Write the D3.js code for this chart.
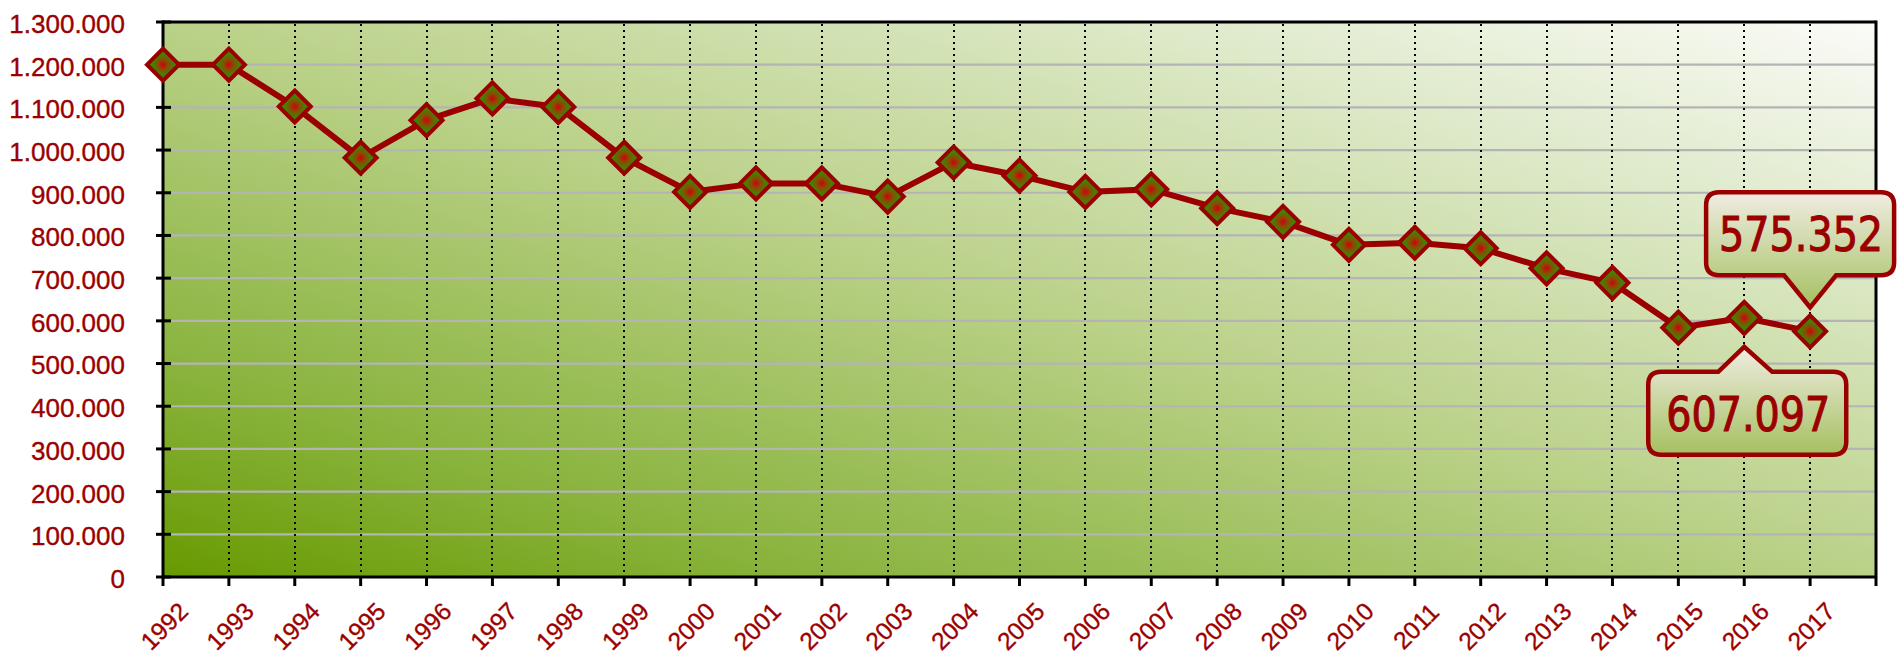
<!DOCTYPE html>
<html>
<head>
<meta charset="utf-8">
<script src="https://cdn.jsdelivr.net/npm/d3@7"></script>
<style>
  html, body { margin: 0; padding: 0; background: #ffffff; }
  svg { display: block; }
</style>
</head>
<body>
<svg id="chart" width="1899" height="655"></svg>
<script>
// ---- data ----
const years = [1992,1993,1994,1995,1996,1997,1998,1999,2000,2001,2002,2003,2004,2005,2006,2007,2008,2009,2010,2011,2012,2013,2014,2015,2016,2017];
const values = [1200000,1200000,1102000,982000,1070000,1121000,1101000,982000,902000,922000,922000,891000,971000,940000,902000,908000,864000,832000,778000,783000,770000,723000,689000,584000,607097,575352];
const yTickValues = [0,100000,200000,300000,400000,500000,600000,700000,800000,900000,1000000,1100000,1200000,1300000];
const xTickYears = [1992,1993,1994,1995,1996,1997,1998,1999,2000,2001,2002,2003,2004,2005,2006,2007,2008,2009,2010,2011,2012,2013,2014,2015,2016,2017,2018];
const calloutYears = [2017, 2016];

// ---- layout ----
const W = 1899, H = 655;
const margin = {left: 163, top: 22, right: 23, bottom: 78};
const x = d3.scaleLinear().domain([1992, 2018]).range([margin.left, W - margin.right]);
const y = d3.scaleLinear().domain([0, 1300000]).range([H - margin.bottom, margin.top]);
const fmt = v => d3.format(",")(v).replace(/,/g, ".");
const RED = "#9b0000";

const svg = d3.select("#chart");
const defs = svg.append("defs");

// background gradient (bottom-left dark green -> top-right white)
const bg = defs.append("linearGradient").attr("id", "bg")
  .attr("x1", 0).attr("y1", 1).attr("x2", 1).attr("y2", 0);
[[0, "#679a00"], [0.18, "#87b23a"], [0.5, "#bad188"], [0.78, "#dde9c8"], [1, "#fbfbf8"]]
  .forEach(([o, c]) => bg.append("stop").attr("offset", o).attr("stop-color", c));

// marker gradient
const mg = defs.append("radialGradient").attr("id", "mk");
[[0, "#d0000a"], [0.3, "#8a4a05"], [0.62, "#468000"], [1, "#3c8200"]]
  .forEach(([o, c]) => mg.append("stop").attr("offset", o).attr("stop-color", c));

// callout gradient
const cg = defs.append("linearGradient").attr("id", "cg")
  .attr("x1", 0).attr("y1", 0).attr("x2", 0).attr("y2", 1);
cg.append("stop").attr("offset", 0).attr("stop-color", "#f0ece2");
cg.append("stop").attr("offset", 1).attr("stop-color", "#a4c060");

const x0 = x.range()[0], x1 = x.range()[1];
const yTop = y.range()[1], yBot = y.range()[0];

// plot background
svg.append("rect")
  .attr("x", x0).attr("y", yTop)
  .attr("width", x1 - x0).attr("height", yBot - yTop)
  .attr("fill", "url(#bg)");

// horizontal gridlines
svg.append("g").selectAll("line")
  .data(yTickValues.filter(v => v > 0 && v < 1300000))
  .join("line")
  .attr("x1", x0).attr("x2", x1)
  .attr("y1", d => y(d)).attr("y2", d => y(d))
  .attr("stroke", "#b4b4b4").attr("stroke-width", 2.2);

// vertical dotted gridlines
svg.append("g").selectAll("line")
  .data(years.filter(d => d > 1992))
  .join("line")
  .attr("x1", d => Math.round(x(d))).attr("x2", d => Math.round(x(d)))
  .attr("y1", yTop + 2).attr("y2", yBot)
  .attr("stroke", "#000").attr("stroke-width", 2)
  .attr("stroke-dasharray", "2,4")
  .attr("shape-rendering", "crispEdges");

// borders / axes
const frame = svg.append("g").attr("stroke", "#000").attr("stroke-width", 3).attr("fill", "none");
frame.append("line").attr("x1", x0).attr("x2", x1).attr("y1", yTop).attr("y2", yTop);
frame.append("line").attr("x1", x1).attr("x2", x1).attr("y1", yTop - 1.5).attr("y2", yBot);
frame.append("line").attr("x1", x0).attr("x2", x1).attr("y1", yBot).attr("y2", yBot);
frame.append("line").attr("x1", x0).attr("x2", x0).attr("y1", yTop - 1.5).attr("y2", yBot + 1.5);

// y ticks & labels
const yAxis = svg.append("g");
yAxis.selectAll("line").data(yTickValues).join("line")
  .attr("x1", x0 - 7).attr("x2", x0 + 8)
  .attr("y1", d => y(d)).attr("y2", d => y(d))
  .attr("stroke", "#000").attr("stroke-width", 3);
yAxis.selectAll("text").data(yTickValues).join("text")
  .attr("x", x0 - 38).attr("y", d => y(d)).attr("dy", "0.42em")
  .attr("text-anchor", "end")
  .attr("font-family", "'Liberation Sans', Arial, sans-serif")
  .attr("font-size", 26).attr("fill", RED)
  .attr("stroke", RED).attr("stroke-width", 0.35)
  .text(d => fmt(d));

// x ticks & labels
const xAxis = svg.append("g");
xAxis.selectAll("line").data(xTickYears).join("line")
  .attr("x1", d => x(d)).attr("x2", d => x(d))
  .attr("y1", yBot).attr("y2", yBot + 9)
  .attr("stroke", "#000").attr("stroke-width", 3);
xAxis.selectAll("text").data(years).join("text")
  .attr("transform", d => `translate(${x(d) + 1},${yBot + 49}) rotate(-45)`)
  .attr("text-anchor", "middle").attr("dy", "0.36em")
  .attr("font-family", "'Liberation Sans', Arial, sans-serif")
  .attr("font-size", 24.5).attr("fill", RED)
  .attr("stroke", RED).attr("stroke-width", 0.35)
  .text(d => d);

// line
const pts = years.map((yr, i) => [x(yr), y(values[i])]);
svg.append("path")
  .attr("d", d3.line()(pts))
  .attr("fill", "none").attr("stroke", RED).attr("stroke-width", 6)
  .attr("stroke-linejoin", "round");

// markers
const s = 16;
svg.append("g").selectAll("path").data(pts).join("path")
  .attr("d", d => `M${d[0]},${d[1]-s} L${d[0]+s},${d[1]} L${d[0]},${d[1]+s} L${d[0]-s},${d[1]} Z`)
  .attr("fill", "url(#mk)").attr("stroke", RED).attr("stroke-width", 4);

// callouts
function calloutPath(l, t, r, b, rad, tipX, tipY, baseL, baseR, below) {
  if (below) {
    return `M${l+rad},${t} H${r-rad} Q${r},${t} ${r},${t+rad} V${b-rad} Q${r},${b} ${r-rad},${b} H${baseR} L${tipX},${tipY} L${baseL},${b} H${l+rad} Q${l},${b} ${l},${b-rad} V${t+rad} Q${l},${t} ${l+rad},${t} Z`;
  }
  return `M${l+rad},${t} H${baseL} L${tipX},${tipY} L${baseR},${t} H${r-rad} Q${r},${t} ${r},${t+rad} V${b-rad} Q${r},${b} ${r-rad},${b} H${l+rad} Q${l},${b} ${l},${b-rad} V${t+rad} Q${l},${t} ${l+rad},${t} Z`;
}
const cl = svg.append("g");
calloutYears.forEach(yr => {
  const i = years.indexOf(yr);
  const px = x(yr), py = y(values[i]);
  let l, t, r, b, tipY, baseL, baseR, below;
  if (yr === 2017) {
    l = px - 104; r = px + 84; t = py - 139; b = py - 56; tipY = py - 24; baseL = px - 26; baseR = px + 26; below = true;
  } else {
    l = px - 96; r = px + 102; t = py + 54; b = py + 137; tipY = py + 29; baseL = px - 26; baseR = px + 28; below = false;
  }
  cl.append("path")
    .attr("d", calloutPath(l, t, r, b, 13, px, tipY, baseL, baseR, below))
    .attr("fill", "url(#cg)").attr("stroke", RED).attr("stroke-width", 4.5);
  cl.append("text")
    .attr("x", (l + r) / 2 + 1).attr("y", (t + b) / 2 + 17.5)
    .attr("text-anchor", "middle")
    .attr("font-family", "'DejaVu Sans Condensed', 'DejaVu Sans', sans-serif")
    .attr("font-stretch", "condensed")
    .attr("font-size", 48).attr("fill", RED)
    .attr("stroke", RED).attr("stroke-width", 1)
    .attr("textLength", 164).attr("lengthAdjust", "spacingAndGlyphs")
    .text(fmt(values[i]));
});
</script>
</body>
</html>
